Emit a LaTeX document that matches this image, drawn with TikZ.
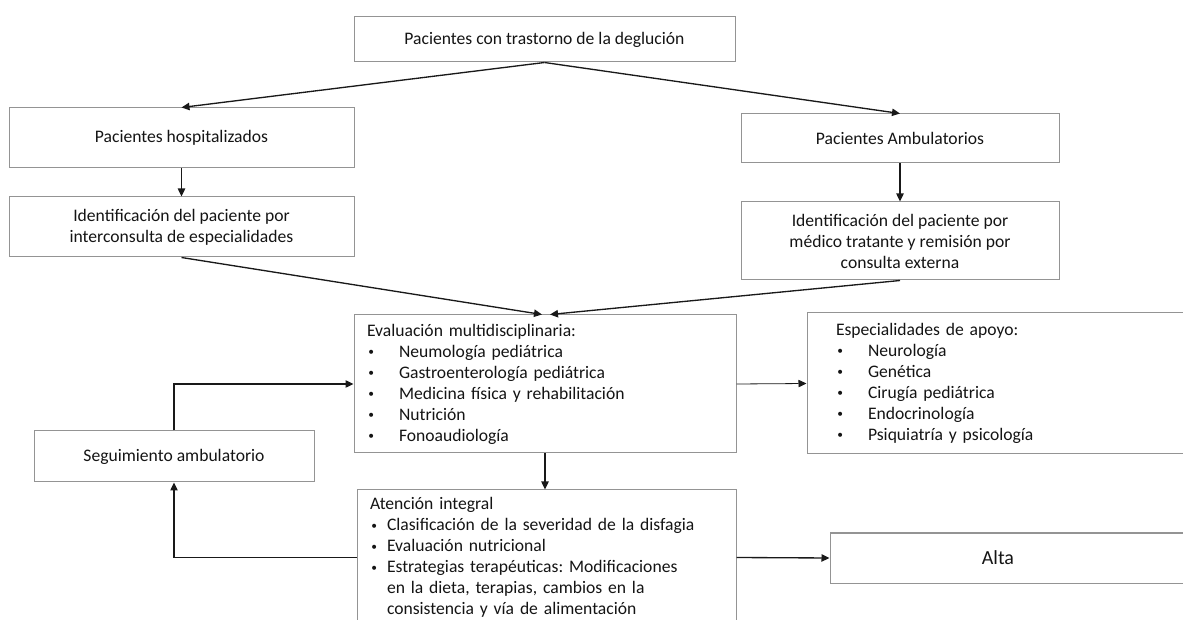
\documentclass[tikz,border=0pt]{standalone}
\usepackage{fontspec}
\setmainfont{Carlito}
\usetikzlibrary{arrows.meta}
\frenchspacing

\tikzset{every picture/.style={line width=0.75pt}}
\tikzset{
  box/.style={draw=black!42, line width=0.75pt, text=black!92, font=\fontsize{13.2}{15.75}\selectfont, inner sep=0pt, align=center},
  listbox/.style={box, align=left, inner xsep=#1},
  listbox/.default=9.75pt,
  link/.style={-{Triangle[length=6pt,width=5.5pt]}, line width=1pt, black!90},
  thinlink/.style={link, line width=0.6pt},
}
\newcommand{\blt}[1]{\makebox[#1][l]{\hspace{1pt}\raisebox{0.2ex}{\scalebox{0.65}{\textbullet}}}}

\begin{document}
\begin{tikzpicture}[x=0.75pt,y=0.75pt,yscale=-1,xscale=1]
\useasboundingbox (0,0) rectangle (1183,620);
\clip (0,0) rectangle (1183,620);

%Shape: Rectangle [id:dglu]
\draw (544.5,39.5) node [box, minimum width=285.75pt, minimum height=33.75pt] (dglu) {Pacientes con trastorno de la deglución};
%Shape: Rectangle [id:hosp]
\draw (181.5,138) node [box, minimum width=258.75pt, minimum height=45pt] (hosp) {Pacientes hospitalizados};
%Shape: Rectangle [id:amb]
\draw (900,138.5) node [box, minimum width=238.5pt, minimum height=36.75pt] (amb) {Pacientes Ambulatorios};
%Shape: Rectangle [id:idhosp]
\draw (181.5,227) node [box, minimum width=258.75pt, minimum height=45pt] (idhosp) {Identificación del paciente por\\interconsulta de especialidades};
%Shape: Rectangle [id:idamb]
\draw (900,241) node [box, minimum width=238.5pt, minimum height=58.5pt] (idamb) {Identificación del paciente por\\médico tratante y remisión por\\consulta externa};

%Shape: Rectangle [id:eval]
\draw (545,384) node [listbox=9.75pt, text width=267pt, minimum height=103.5pt] (eval) {Evaluación multidisciplinaria:\\
\blt{24pt}Neumología pediátrica\\
\blt{24pt}Gastroenterología pediátrica\\
\blt{24pt}Medicina física y rehabilitación\\
\blt{24pt}Nutrición\\
\blt{24pt}Fonoaudiología};
%Shape: Rectangle [id:esp]
\draw (1001,383.5) node [listbox=21.75pt, text width=247.5pt, minimum height=105.75pt] (esp) {Especialidades de apoyo:\\
\blt{24pt}Neurología\\
\blt{24pt}Genética\\
\blt{24pt}Cirugía pediátrica\\
\blt{24pt}Endocrinología\\
\blt{24pt}Psiquiatría y psicología};
%Shape: Rectangle [id:seg]
\draw (174,456.5) node [box, minimum width=210pt, minimum height=38.25pt] (seg) {Seguimiento ambulatorio};
%Shape: Rectangle [id:aten]
\draw (546.5,557.5) node [listbox=9.75pt, text width=264.75pt, minimum height=101.25pt] (aten) {Atención integral\\
\blt{12.75pt}Clasificación de la severidad de la disfagia\\
\blt{12.75pt}Evaluación nutricional\\
\blt{12.75pt}Estrategias terapéuticas: Modificaciones\\
\hspace*{12.75pt}en la dieta, terapias, cambios en la\\
\hspace*{12.75pt}consistencia y vía de alimentación};
%Shape: Rectangle [id:alta]
\draw (1012.5,558) node [box, minimum width=273.75pt, minimum height=37.5pt, label={[font=\fontsize{15}{18}\selectfont, text=black!92, xshift=-10.9pt]center:Alta}] (alta) {};

%Straight Lines
\draw [link] (dglu.south) -- (hosp.north);
\draw [link] (dglu.south) -- (amb.north);
\draw [link] (hosp.south) -- (idhosp.north);
\draw [link] (amb.south) -- (idamb.north);
\draw [link] (idhosp.south) -- ([xshift=-2.25pt]eval.north);
\draw [link] (idamb.south) -- ([xshift=3.75pt]eval.north);
\draw [thinlink] (eval.east) -- (esp.west);
\draw [link] (eval.south) -- (eval.south |- aten.north);
\draw [link] (aten.east) -- (alta.west);
%Elbow Lines
\draw [link] (seg.north) |- (eval.west);
\draw [link] (aten.west) -| (seg.south);

\end{tikzpicture}
\end{document}
